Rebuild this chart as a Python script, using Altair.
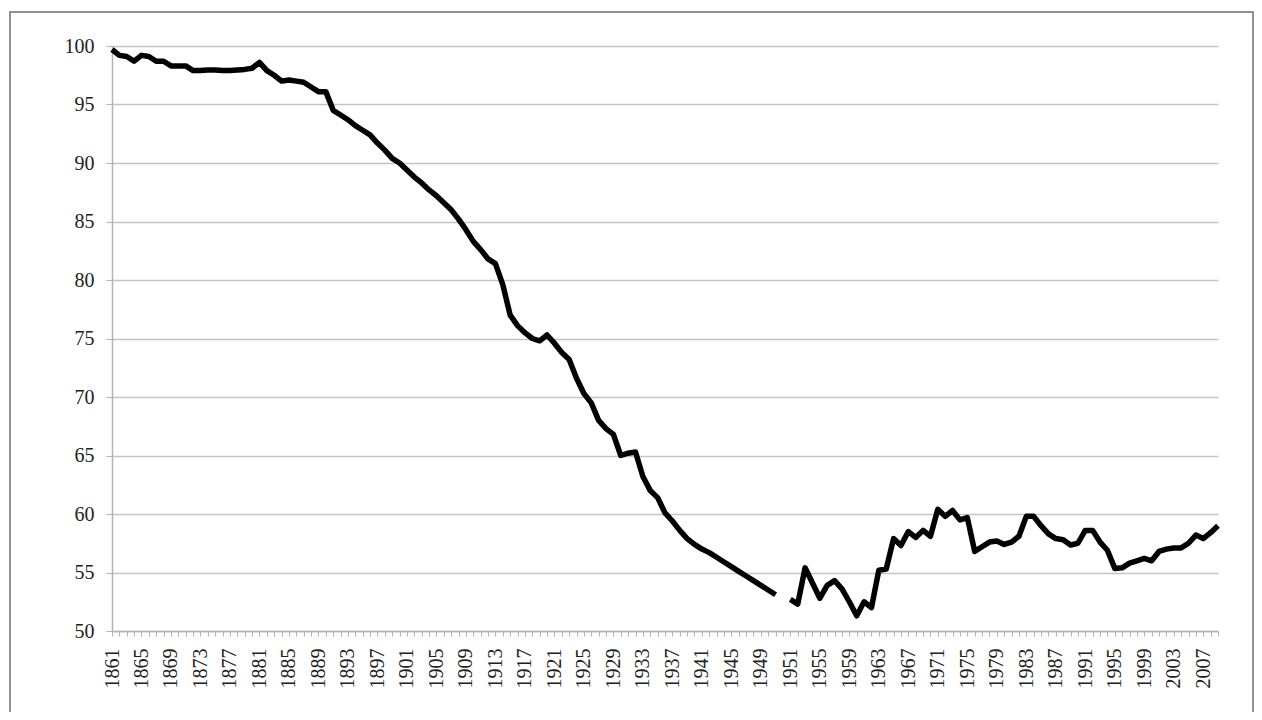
import json
import altair as alt
import pandas as pd

# ---- data ----
# first series: 1861 .. 1950, plus the last point of the old series (second 1951 entry)
OLD_CATS = [str(y) for y in range(1861, 1951)] + ["1951 (a)"]
OLD_VALUES = [
    99.7, 99.2, 99.1, 98.7, 99.2, 99.1, 98.7, 98.7, 98.3, 98.3,   # 1861-1870
    98.3, 97.9, 97.9, 97.95, 97.95, 97.9, 97.9, 97.95, 98.0, 98.1,  # 1871-1880
    98.6, 97.9, 97.5, 97.0, 97.1, 97.0, 96.9, 96.5, 96.1, 96.1,   # 1881-1890
    94.5, 94.1, 93.7, 93.2, 92.8, 92.4, 91.7, 91.1, 90.4, 90.0,   # 1891-1900
    89.4, 88.8, 88.3, 87.7, 87.2, 86.6, 86.0, 85.2, 84.3, 83.3,   # 1901-1910
    82.6, 81.8, 81.4, 79.6, 77.0, 76.1, 75.5, 75.0, 74.8, 75.3,   # 1911-1920
    74.6, 73.8, 73.2, 71.6, 70.3, 69.5, 68.0, 67.3, 66.8, 65.0,   # 1921-1930
    65.2, 65.3, 63.2, 62.0, 61.4, 60.1, 59.4, 58.6, 57.9, 57.4,   # 1931-1940
    57.0, 56.7, 56.3, 55.9, 55.5, 55.1, 54.7, 54.3, 53.9, 53.5,   # 1941-1950
    53.1,                                                          # 1951 (a)
]
GAP_CAT = "gap"
NEW_CATS = [str(y) for y in range(1951, 2010)]
NEW_VALUES = [
    52.7, 52.3, 55.4, 54.1, 52.8, 53.9, 54.3, 53.6, 52.5, 51.3,   # 1951-1960
    52.5, 52.0, 55.2, 55.3, 57.9, 57.3, 58.5, 58.0, 58.6, 58.1,   # 1961-1970
    60.4, 59.8, 60.3, 59.5, 59.7, 56.8, 57.2, 57.6, 57.7, 57.4,   # 1971-1980
    57.6, 58.1, 59.8, 59.8, 59.0, 58.3, 57.9, 57.8, 57.35, 57.5,  # 1981-1990
    58.6, 58.6, 57.6, 56.9, 55.35, 55.4, 55.8, 56.0, 56.2, 56.0,  # 1991-2000
    56.8, 57.0, 57.1, 57.1, 57.5, 58.2, 57.9, 58.4, 59.0,         # 2001-2009
]
Y_TICKS = [50, 55, 60, 65, 70, 75, 80, 85, 90, 95, 100]

DOMAIN = OLD_CATS + [GAP_CAT] + NEW_CATS
LABELS = DOMAIN[::4]

df = pd.DataFrame({
    "cat": OLD_CATS + NEW_CATS,
    "value": OLD_VALUES + NEW_VALUES,
    "seg": ["old"] * len(OLD_CATS) + ["new"] * len(NEW_CATS),
    "idx": list(range(len(OLD_CATS))) + list(range(len(OLD_CATS) + 1, len(DOMAIN))),
})

FONT = "Liberation Serif"
GRAY = "#b4b4b4"

label_expr = f"indexof({json.dumps(LABELS)}, datum.value) >= 0 ? datum.value : ''"

line = alt.Chart(df).mark_line(color="black", strokeWidth=5.5, strokeJoin="round", strokeCap="butt").encode(
    x=alt.X(
        "cat:N",
        sort=None,
        scale=alt.Scale(type="point", domain=DOMAIN, padding=0),
        axis=alt.Axis(
            values=DOMAIN,
            labelExpr=label_expr,
            labelAngle=-90,
            labelOverlap=False,
            labelFont=FONT,
            labelFontSize=20,
            labelColor="#222222",
            labelPadding=12,
            labelBaseline="middle",
            tickSize=5,
            tickColor=GRAY,
            domainColor=GRAY,
            domainWidth=1.5,
            grid=False,
            title=None,
        ),
    ),
    y=alt.Y(
        "value:Q",
        scale=alt.Scale(domain=[50, 100], nice=False, zero=False),
        axis=alt.Axis(
            values=Y_TICKS,
            labelFont=FONT,
            labelFontSize=20,
            labelColor="#222222",
            labelPadding=12,
            tickSize=6,
            tickColor=GRAY,
            domainColor=GRAY,
            domainWidth=1.5,
            grid=True,
            gridColor="#c4c4c4",
            gridWidth=1.5,
            title=None,
        ),
    ),
    detail="seg:N",
    order=alt.Order("idx:Q"),
)

frame = alt.Chart(pd.DataFrame({"a": [0]})).mark_rect(
    filled=False, stroke="#6e6e6e", strokeWidth=1.5
).encode(
    x=alt.value(-102), x2=alt.value(1141), y=alt.value(-34), y2=alt.value(700)
)

chart = alt.layer(frame, line).properties(
    width=1106,
    height=585,
    padding={"left": 104, "top": 38, "right": 36, "bottom": 81},
    autosize=alt.AutoSizeParams(type="none"),
    background="white",
).configure_view(stroke=None)

chart.save("out.html", embed_options={"renderer": "svg", "actions": False})
